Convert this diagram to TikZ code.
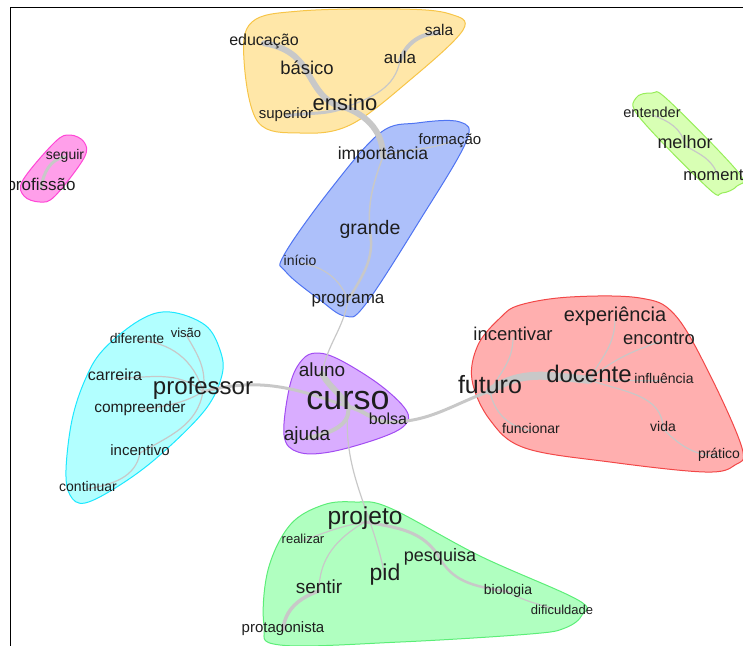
\documentclass[tikz,border=0pt]{standalone}
\usepackage{fontspec}
\setmainfont{Liberation Sans}
\usepackage{tikz}
\usetikzlibrary{topaths}

\pgfdeclarelayer{hulls}
\pgfdeclarelayer{links}
\pgfsetlayers{hulls,links,main}

\definecolor{linkgray}{HTML}{C8C8C8}
\definecolor{wordcol}{HTML}{1E1E1E}
\definecolor{yelfill}{HTML}{FFE7A8}
\definecolor{yeldraw}{HTML}{F7C548}
\definecolor{bluefill}{HTML}{ADC0FA}
\definecolor{bluedraw}{HTML}{4F74F2}
\definecolor{pinkfill}{HTML}{FF9FEA}
\definecolor{pinkdraw}{HTML}{FF45D6}
\definecolor{limefill}{HTML}{D8FFB4}
\definecolor{limedraw}{HTML}{98EE5A}
\definecolor{cyanfill}{HTML}{B2FFFF}
\definecolor{cyandraw}{HTML}{1CE8FF}
\definecolor{purpfill}{HTML}{D9ADFF}
\definecolor{purpdraw}{HTML}{A24CF2}
\definecolor{redfill}{HTML}{FFAFAF}
\definecolor{reddraw}{HTML}{F24747}
\definecolor{grnfill}{HTML}{B0FFC0}
\definecolor{grndraw}{HTML}{5CEE78}

\begin{document}
\begin{tikzpicture}[x=1pt, y=1pt,
                    word/.style={font=\fontsize{#1}{#1}\selectfont, inner sep=0pt, anchor=mid, text=wordcol, yshift=-0.2*#1pt},
                    link/.style={draw=linkgray, line width=#1, line cap=round},
                    hull/.style 2 args={fill=#1, draw=#2, line width=1pt}]

  \useasboundingbox (0,0) rectangle (743,-645);
  \draw[line width=1.5pt] (10.5,-650) -- (10.5,-7.5) -- (750,-7.5);
  \clip (11.3,-8.3) rectangle (743,-645);

  \node[word=16]   (educacao)    at (264,-40)  {educação};
  \node[word=18.5] (basico)      at (307,-68)  {básico};
  \node[word=15.5] (sala)        at (439,-30)  {sala};
  \node[word=17]   (aula)        at (400,-57)  {aula};
  \node[word=22]   (ensino)      at (345,-103) {ensino};
  \node[word=15]   (superior)    at (286,-113) {superior};

  \node[word=15]   (formacao)    at (450,-139) {formação};
  \node[word=17.5] (importancia) at (383,-153) {importância};
  \node[word=19.5] (grande)      at (370,-228) {grande};
  \node[word=14]   (inicio)      at (300,-260) {início};
  \node[word=17]   (programa)    at (348,-297) {programa};

  \node[word=14]   (seguir)      at (65,-154)  {seguir};
  \node[word=17]   (profissao)   at (41,-184)  {profissão};

  \node[word=14.5] (entender)    at (652,-112) {entender};
  \node[word=18]   (melhor)      at (685,-142) {melhor};
  \node[word=16.6] (momento)     at (718,-175) {momento};

  \node[word=14]   (diferente)   at (137,-338) {diferente};
  \node[word=13]   (visao)       at (186,-332) {visão};
  \node[word=16]   (carreira)    at (115,-375) {carreira};
  \node[word=24]   (professor)   at (203,-387) {professor};
  \node[word=15.5] (compreender) at (140,-407) {compreender};
  \node[word=15]   (incentivo)   at (140,-450) {incentivo};
  \node[word=14]   (continuar)   at (88,-486)  {continuar};

  \node[word=19]   (aluno)       at (322,-370) {aluno};
  \node[word=34]   (curso)       at (348,-400) {curso};
  \node[word=16]   (bolsa)       at (388,-419) {bolsa};
  \node[word=19]   (ajuda)       at (307,-434) {ajuda};

  \node[word=20]   (experiencia) at (615,-315) {experiência};
  \node[word=18.5] (incentivar)  at (513,-334) {incentivar};
  \node[word=18.4] (encontro)    at (659,-338) {encontro};
  \node[word=24]   (docente)     at (589,-375) {docente};
  \node[word=14]   (influencia)  at (664,-378) {influência};
  \node[word=25]   (futuro)      at (490,-386) {futuro};
  \node[word=14]   (funcionar)   at (531,-428) {funcionar};
  \node[word=14]   (vida)        at (663,-426) {vida};
  \node[word=14]   (pratico)     at (719,-453) {prático};

  \node[word=24.5] (projeto)     at (365,-517) {projeto};
  \node[word=13]   (realizar)    at (303,-538) {realizar};
  \node[word=18]   (pesquisa)    at (440,-555) {pesquisa};
  \node[word=23]   (pid)         at (385,-573) {pid};
  \node[word=19]   (sentir)      at (319,-587) {sentir};
  \node[word=14]   (biologia)    at (508,-589) {biologia};
  \node[word=13]   (dificuldade) at (562,-609) {dificuldade};
  \node[word=15]   (protagonista) at (283,-627) {protagonista};

  \begin{pgfonlayer}{hulls}
    \draw[hull={yelfill}{yeldraw}] plot[smooth cycle, tension=.6] coordinates
      {(244,-60) (252,-22) (300,-11) (400,-9) (450,-14) (463,-30) (410,-80) (350,-125) (300,-133) (258,-122)};
    \draw[hull={bluefill}{bluedraw}] plot[smooth cycle, tension=.6] coordinates
      {(417,-123) (460,-122) (466,-142) (420,-220) (365,-305) (345,-316) (320,-300) (286,-272) (284,-255) (330,-190) (380,-133)};
    \draw[hull={pinkfill}{pinkdraw}] plot[smooth cycle, tension=.6] coordinates
      {(23,-180) (55,-142) (70,-135) (84,-142) (84,-158) (55,-196) (40,-202) (24,-196)};
    \draw[hull={limefill}{limedraw}] plot[smooth cycle, tension=.6] coordinates
      {(636,-98) (652,-93) (668,-100) (738,-172) (737,-186) (722,-193) (708,-188) (640,-118)};
    \draw[hull={cyanfill}{cyandraw}] plot[smooth cycle, tension=.6] coordinates
      {(103,-350) (140,-320) (170,-312) (205,-325) (220,-350) (222,-375) (205,-410) (160,-455) (120,-485) (85,-503) (70,-495) (66,-470) (72,-420) (85,-380)};
    \draw[hull={purpfill}{purpdraw}] plot[smooth cycle, tension=.6] coordinates
      {(317,-353) (340,-360) (380,-385) (406,-410) (405,-425) (380,-438) (330,-452) (298,-452) (284,-435) (290,-385) (302,-360)};
    \draw[hull={redfill}{reddraw}] plot[smooth cycle, tension=.6] coordinates
      {(520,-305) (570,-297) (640,-298) (675,-315) (710,-375) (742,-448) (735,-465) (705,-472) (610,-462) (525,-448) (490,-420) (472,-380) (478,-345) (500,-318)};
    \draw[hull={grnfill}{grndraw}] plot[smooth cycle, tension=.6] coordinates
      {(323,-505) (355,-502) (390,-508) (480,-556) (578,-600) (582,-615) (565,-628) (530,-634) (400,-642) (280,-645) (264,-625) (268,-570) (290,-525)};
  \end{pgfonlayer}

  \begin{pgfonlayer}{links}
    \path
      (educacao.mid)    edge[link=6, out=-10, in=120]   (basico.mid)
      (basico.mid)      edge[link=6, out=-60, in=170]   (ensino.mid)
      (ensino.mid)      edge[link=6, out=-20, in=90]    (importancia.mid)
      (ensino.mid)      edge[link=3, out=-160, in=10]   (superior.mid)
      (ensino.mid)      edge[link=1.2, out=20, in=-100] (aula.mid)
      (aula.mid)        edge[link=4, out=70, in=180]    (sala.mid)
      (importancia.mid) edge[link=1.2, out=20, in=200]  (formacao.mid)
      (importancia.mid) edge[link=1.5, out=-110, in=95] (grande.mid)
      (grande.mid)      edge[link=2.5, out=-80, in=60]  (programa.mid)
      (inicio.mid)      edge[link=1.2, out=-10, in=110] (programa.mid)
      (programa.mid)    edge[link=1.2, out=-100, in=80] (aluno.mid)
      (seguir.mid)      edge[link=3, out=190, in=80]    (profissao.mid)
      (entender.mid)    edge[link=1.2, out=-20, in=100] (melhor.mid)
      (melhor.mid)      edge[link=1.2, out=-30, in=100] (momento.mid)
      (professor.mid)   edge[link=1.2, out=105, in=0]   (diferente.mid)
      (professor.mid)   edge[link=1.2, out=80, in=-60]  (visao.mid)
      (professor.mid)   edge[link=1.2, out=140, in=0]   (carreira.mid)
      (professor.mid)   edge[link=1.2, out=-150, in=10] (compreender.mid)
      (professor.mid)   edge[link=1.2, out=-100, in=30] (incentivo.mid)
      (incentivo.mid)   edge[link=1.2, out=-100, in=10] (continuar.mid)
      (professor.mid)   edge[link=3, out=15, in=160]    (curso.mid)
      (curso.mid)       edge[link=6, out=120, in=-60]   (aluno.mid)
      (curso.mid)       edge[link=4, out=-80, in=10]    (ajuda.mid)
      (curso.mid)       edge[link=4, out=-10, in=175]   (bolsa.mid)
      (bolsa.mid)       edge[link=3, out=0, in=200]     (futuro.mid)
      (futuro.mid)      edge[link=8, out=35, in=175]    (docente.mid)
      (futuro.mid)      edge[link=1.2, out=60, in=-90]  (incentivar.mid)
      (futuro.mid)      edge[link=1.2, out=-80, in=170] (funcionar.mid)
      (docente.mid)     edge[link=1.2, out=60, in=-90]  (experiencia.mid)
      (docente.mid)     edge[link=1.2, out=40, in=200]  (encontro.mid)
      (docente.mid)     edge[link=1.2, out=0, in=180]   (influencia.mid)
      (docente.mid)     edge[link=1.2, out=-20, in=90]  (vida.mid)
      (vida.mid)        edge[link=1.2, out=-45, in=180] (pratico.mid)
      (curso.mid)       edge[link=1.2, out=-95, in=100] (pid.mid)
      (projeto.mid)     edge[link=1.2, out=190, in=20]  (realizar.mid)
      (projeto.mid)     edge[link=1.2, out=-150, in=90] (sentir.mid)
      (sentir.mid)      edge[link=3.5, out=-160, in=85] (protagonista.mid)
      (projeto.mid)     edge[link=3, out=-10, in=120]   (pesquisa.mid)
      (pesquisa.mid)    edge[link=2.5, out=-60, in=170] (biologia.mid)
      (biologia.mid)    edge[link=1.2, out=-30, in=160] (dificuldade.mid);
  \end{pgfonlayer}
\end{tikzpicture}
\end{document}
